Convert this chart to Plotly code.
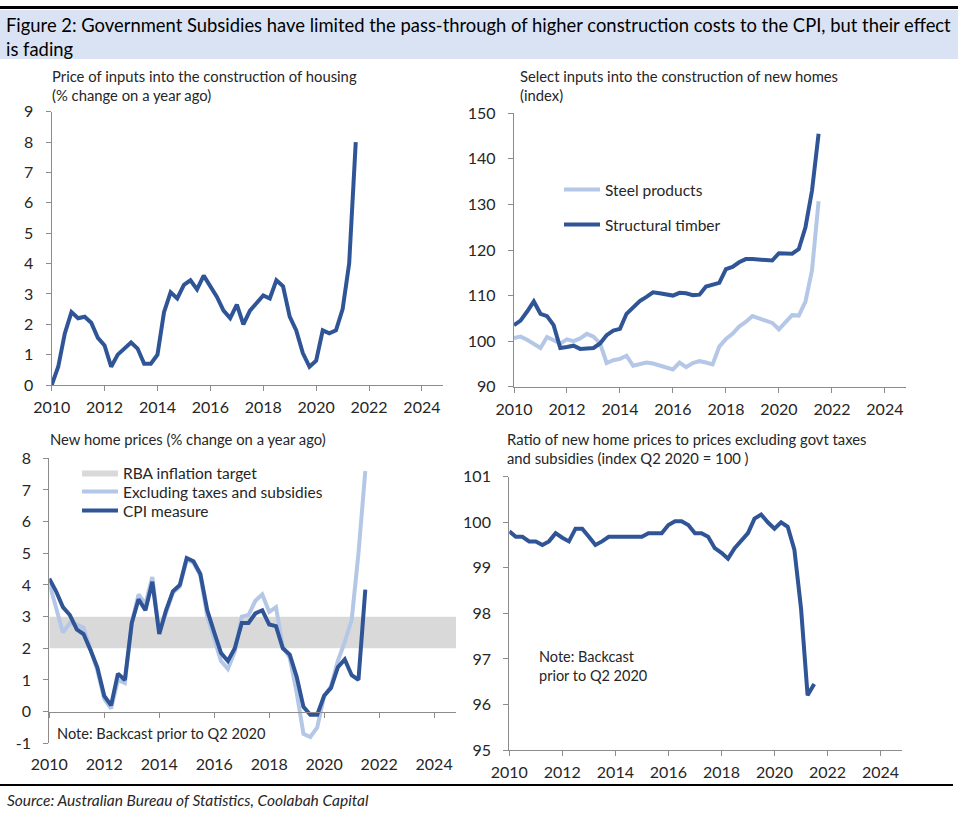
import pandas as pd
import plotly.graph_objects as go

# ---------------- data (quarterly, Q1 2010 .. Q3 2021) ----------------
quarters = pd.date_range("2010-01-01", periods=47, freq="QS")

input_prices_yoy = [
    0.0, 0.6, 1.7, 2.4,
    2.2, 2.25, 2.05, 1.55,
    1.3, 0.6, 1.0, 1.2,
    1.4, 1.2, 0.7, 0.7,
    1.0, 2.4, 3.05, 2.85,
    3.3, 3.45, 3.15, 3.6,
    3.25, 2.9, 2.45, 2.2,
    2.65, 2.0, 2.45, 2.7,
    2.95, 2.85, 3.45, 3.25,
    2.25, 1.8, 1.05, 0.6,
    0.8, 1.8, 1.7, 1.8,
    2.5, 4.0, 8.0,
]

steel_products = [
    100.7, 101.0, 100.3, 99.5,
    98.5, 100.9, 100.2, 99.5,
    100.4, 100.0, 100.6, 101.6,
    101.0, 99.5, 95.2, 95.8,
    96.1, 96.8, 94.6, 95.0,
    95.3, 95.1, 94.7, 94.2,
    93.8, 95.3, 94.3, 95.2,
    95.6, 95.3, 94.9, 98.8,
    100.5, 101.6, 103.2, 104.2,
    105.5, 105.0, 104.6, 104.0,
    102.6, 104.2, 105.7, 105.6,
    108.7, 115.5, 130.7,
]

structural_timber = [
    103.5, 104.5, 106.5, 108.7,
    106.0, 105.5, 103.5, 98.5,
    98.7, 99.0, 98.3, 98.5,
    98.5, 99.5, 101.3, 102.3,
    102.7, 106.0, 107.5, 108.8,
    109.7, 110.7, 110.5, 110.3,
    110.0, 110.6, 110.5, 110.1,
    110.2, 112.0, 112.3, 112.8,
    115.8, 116.3, 117.3, 118.0,
    118.0, 117.9, 117.9, 117.7,
    119.3, 119.3, 119.2, 120.2,
    125.0, 133.0, 145.5,
]

excl_taxes_subsidies = [
    4.05, 3.3, 2.5, 2.8,
    2.75, 2.65, 2.0, 1.3,
    0.4, 0.1, 1.0, 0.9,
    2.8, 3.7, 3.4, 4.25,
    2.5, 3.1, 3.75, 3.95,
    4.8, 4.7, 4.3, 3.0,
    2.3, 1.6, 1.35, 1.9,
    3.0, 3.05, 3.5, 3.7,
    3.15, 3.3, 2.05, 1.7,
    0.6, -0.7, -0.8, -0.5,
    0.5, 0.8, 1.6, 2.2,
    2.9, 5.0, 7.6,
]

cpi_measure = [
    4.2, 3.8, 3.3, 3.05,
    2.6, 2.45, 1.95, 1.4,
    0.5, 0.2, 1.2, 1.0,
    2.8, 3.55, 3.2, 4.1,
    2.45, 3.2, 3.8, 4.0,
    4.85, 4.75, 4.35, 3.2,
    2.5, 1.85, 1.6, 2.0,
    2.8, 2.8, 3.1, 3.2,
    2.75, 2.7, 2.0, 1.8,
    1.1, 0.15, -0.1, -0.1,
    0.5, 0.75, 1.4, 1.65,
    1.15, 1.0, 3.85,
]

price_ratio = [
    99.8, 99.68, 99.68, 99.58,
    99.58, 99.5, 99.58, 99.76,
    99.66, 99.58, 99.86, 99.86,
    99.68, 99.5, 99.58, 99.68,
    99.68, 99.68, 99.68, 99.68,
    99.68, 99.76, 99.76, 99.76,
    99.94, 100.02, 100.02, 99.94,
    99.76, 99.76, 99.68, 99.43,
    99.33, 99.2, 99.43, 99.6,
    99.76, 100.08, 100.17, 100.0,
    99.86, 100.0, 99.9, 99.4,
    98.1, 96.2, 96.45,
]

rba_target_band = [2, 3]
x_range = ["2010-01-01", "2024-10-18"]
x_tickvals = pd.date_range("2010-01-01", "2024-01-01", freq="24MS")
x_ticktext = ["2010", "2012", "2014", "2016", "2018", "2020", "2022", "2024"]
y3_tickvals = [-1, 0, 1, 2, 3, 4, 5, 6, 7, 8]
y3_ticktext = ["-1", "0", "1", "2", "3", "4", "5", "6", "7", "8"]

# ---------------- style ----------------
W, H = 958, 829
DARK = "#2f5597"
LIGHT = "#b4c7e7"
BAND = "#d9d9d9"
AX = "#8c8c8c"
TXT = "#262626"
FONT = "Lato, 'Noto Sans', sans-serif"


def fx(px):
    return px / W


def fy(py):
    return 1 - py / H


dom = {
    1: ([fx(51.7), fx(443)], [fy(385), fy(111.7)]),
    2: ([fx(514), fx(906)], [fy(386.7), fy(113.3)]),
    3: ([fx(49.3), fx(456)], [fy(743.3), fy(458.3)]),
    4: ([fx(509.3), fx(901.7)], [fy(750), fy(476.7)]),
}

fig = go.Figure()

fig.add_trace(go.Scatter(x=quarters, y=input_prices_yoy, mode="lines",
                         line=dict(color=DARK, width=4), showlegend=False,
                         xaxis="x", yaxis="y"))

fig.add_trace(go.Scatter(x=quarters, y=steel_products, mode="lines", name="Steel products",
                         line=dict(color=LIGHT, width=4), legend="legend4",
                         xaxis="x2", yaxis="y2"))
fig.add_trace(go.Scatter(x=quarters, y=structural_timber, mode="lines", name="Structural timber",
                         line=dict(color=DARK, width=4), legend="legend5",
                         xaxis="x2", yaxis="y2"))

fig.add_trace(go.Scatter(x=[x_range[0], x_range[1], x_range[1], x_range[0]],
                         y=[rba_target_band[0], rba_target_band[0], rba_target_band[1], rba_target_band[1]],
                         mode="lines", fill="toself", fillcolor=BAND, line=dict(width=0, color=BAND),
                         name="RBA inflation target", legend="legend",
                         xaxis="x3", yaxis="y3", hoverinfo="skip"))
fig.add_trace(go.Scatter(x=quarters, y=excl_taxes_subsidies, mode="lines",
                         name="Excluding taxes and subsidies", legend="legend2",
                         line=dict(color=LIGHT, width=4), xaxis="x3", yaxis="y3"))
fig.add_trace(go.Scatter(x=quarters, y=cpi_measure, mode="lines", name="CPI measure",
                         legend="legend3",
                         line=dict(color=DARK, width=4), xaxis="x3", yaxis="y3"))

fig.add_trace(go.Scatter(x=quarters, y=price_ratio, mode="lines", showlegend=False,
                         line=dict(color=DARK, width=4), xaxis="x4", yaxis="y4"))

tickfont = dict(family=FONT, size=16, color=TXT)


def xax(n, **kw):
    d = dict(domain=dom[n][0], range=x_range, type="date", tickvals=x_tickvals, ticktext=x_ticktext,
             showline=True, linecolor=AX, linewidth=1.3, ticks="outside", ticklen=5, tickcolor=AX,
             tickwidth=1.3, showgrid=False, zeroline=False, tickfont=tickfont, fixedrange=True,
             anchor="y" if n == 1 else f"y{n}", ticklabelstandoff=3, automargin=False)
    d.update(kw)
    return d


def yax(n, rng, dtick, **kw):
    d = dict(domain=dom[n][1], range=rng, dtick=dtick, showline=True, linecolor=AX, linewidth=1.3,
             ticks="outside", ticklen=5, tickcolor=AX, tickwidth=1.3, showgrid=False, zeroline=False,
             tickfont=tickfont, anchor="x" if n == 1 else f"x{n}", ticklabelstandoff=9,
             automargin=False, fixedrange=True)
    d.update(kw)
    return d


pos0 = dom[3][1][0] + (dom[3][1][1] - dom[3][1][0]) * (1 / 9)


def leg(px, py):
    return dict(x=fx(px), y=fy(py), xanchor="left", yanchor="middle", bgcolor="rgba(0,0,0,0)",
                font=dict(family=FONT, size=15.5, color=TXT), itemwidth=36)


fig.update_layout(
    width=W, height=H, margin=dict(l=0, r=0, t=0, b=0, autoexpand=False),
    paper_bgcolor="white", plot_bgcolor="white",
    font=dict(family=FONT, color=TXT),
    xaxis=xax(1), yaxis=yax(1, [0, 9], 1),
    xaxis2=xax(2), yaxis2=yax(2, [90, 150], 10),
    xaxis3=xax(3, anchor="free", position=pos0, ticklabelstandoff=33),
    yaxis3=yax(3, [-1, 8], None, tickvals=y3_tickvals, ticktext=y3_ticktext),
    xaxis4=xax(4), yaxis4=yax(4, [95, 101], 1),
    legend=leg(77, 473),
    legend2=leg(77, 492),
    legend3=leg(77, 511),
    legend4=leg(559, 190),
    legend5=leg(559, 225),
    showlegend=True,
)

shapes = [
    dict(type="rect", xref="paper", yref="paper", x0=0, x1=1, y0=fy(59), y1=fy(10),
         fillcolor="#dae3f3", line=dict(width=0), layer="below"),
    dict(type="line", xref="paper", yref="paper", x0=0, x1=1, y0=fy(7.5), y1=fy(7.5),
         line=dict(color="black", width=3)),
    dict(type="line", xref="paper", yref="paper", x0=0, x1=fx(953), y0=fy(785), y1=fy(785),
         line=dict(color="black", width=2)),
]
fig.update_layout(shapes=shapes)


def ann(text, px, py, size=14.8, italic=False, anchor="left", yanchor="middle"):
    return dict(text=text, x=fx(px), y=fy(py), xref="paper", yref="paper", xanchor=anchor,
                yanchor=yanchor, showarrow=False, align="left",
                font=dict(family=FONT, size=size, color=TXT, style="italic" if italic else "normal"))


annotations = [
    dict(text="Figure 2: Government Subsidies have limited the pass-through of higher construction costs to the CPI, but their effect<br>is fading",
         x=fx(4), y=fy(12), xref="paper", yref="paper", xanchor="left", yanchor="top", showarrow=False,
         align="left", font=dict(family=FONT, size=18.4, color="black")),
    ann("Price of inputs into the construction of housing<br>(% change on a year ago)", 50, 86),
    ann("Select inputs into the construction of new homes<br>(index)", 518, 86),
    ann("New home prices (% change on a year ago)", 48, 439),
    ann("Ratio of new home prices to prices excluding govt taxes<br>and subsidies (index Q2 2020 = 100 )", 505, 449),
    ann("Note: Backcast prior to Q2 2020", 55, 733, size=14.6),
    ann("Note: Backcast<br>prior to Q2 2020", 537, 666, size=14.5),
    ann("Source: Australian Bureau of Statistics, Coolabah Capital", 5, 800, size=15.5, italic=True),
]
fig.update_layout(annotations=annotations)

fig.write_html("out.html", config={"displayModeBar": False, "staticPlot": False},
               post_script="document.body.style.margin='0';document.body.style.padding='0';")
